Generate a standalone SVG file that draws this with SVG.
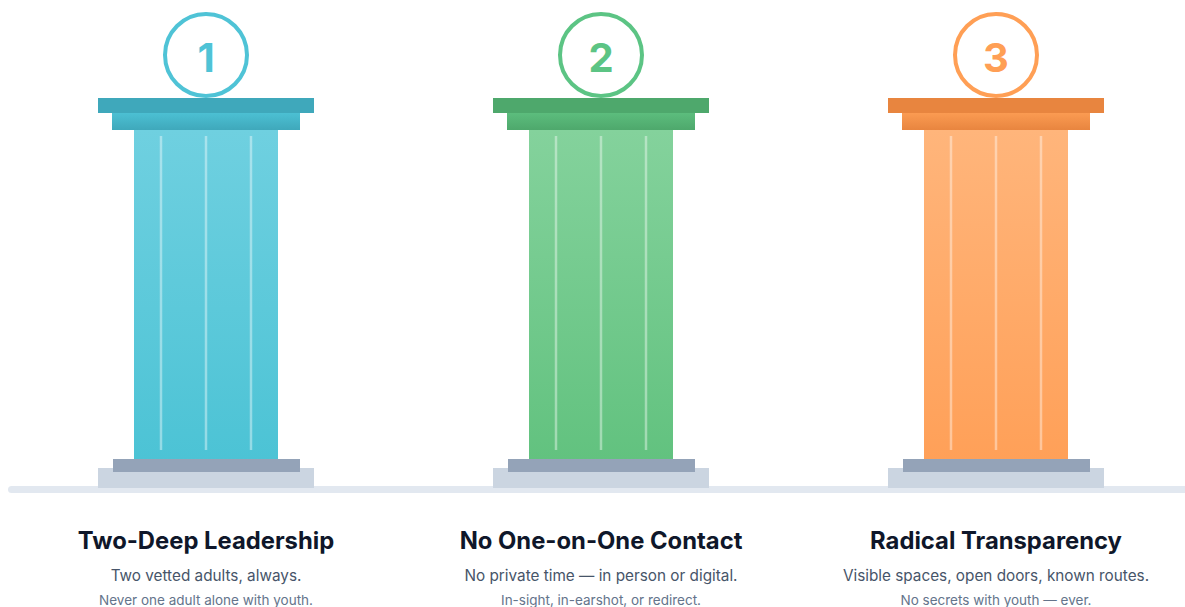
<svg xmlns="http://www.w3.org/2000/svg" width="1185" height="607" viewBox="0 0 1185 607">
  <style>
    .num { font-family: Inter, "Noto Sans", sans-serif; font-weight: 700; font-size: 40px; text-anchor: middle; }
    .title { font-family: Inter, "Noto Sans", sans-serif; font-weight: 700; font-size: 23.8px; fill: #0f172a; text-anchor: middle; }
    .sub { font-family: Inter, "Noto Sans", sans-serif; font-size: 15.3px; fill: #475569; text-anchor: middle; }
    .small { font-family: Inter, "Noto Sans", sans-serif; font-size: 13.5px; fill: #64748b; text-anchor: middle; }
    .flute { stroke: #ffffff; stroke-opacity: 0.4; stroke-width: 2.5; }
    .base1 { fill: #94a3b8; }
    .base2 { fill: #cbd5e1; }
  </style>
  <defs>
    <linearGradient id="shaftC" x1="0" y1="0" x2="0" y2="1"><stop offset="0" stop-color="#6fd0e0"/><stop offset="1" stop-color="#4cc3d5"/></linearGradient>
    <linearGradient id="capC" x1="0" y1="0" x2="0" y2="1"><stop offset="0" stop-color="#4cc0d3"/><stop offset="1" stop-color="#3fa8bb"/></linearGradient>
    <linearGradient id="shaftG" x1="0" y1="0" x2="0" y2="1"><stop offset="0" stop-color="#84d29c"/><stop offset="1" stop-color="#62c27f"/></linearGradient>
    <linearGradient id="capG" x1="0" y1="0" x2="0" y2="1"><stop offset="0" stop-color="#5cbd7d"/><stop offset="1" stop-color="#4ea86c"/></linearGradient>
    <linearGradient id="shaftO" x1="0" y1="0" x2="0" y2="1"><stop offset="0" stop-color="#ffb57b"/><stop offset="1" stop-color="#ffa058"/></linearGradient>
    <linearGradient id="capO" x1="0" y1="0" x2="0" y2="1"><stop offset="0" stop-color="#fb9b52"/><stop offset="1" stop-color="#e8853f"/></linearGradient>
  </defs>
  <rect width="1185" height="607" fill="#ffffff"/>
  <rect id="ground" x="8" y="486" width="1185" height="7" rx="3.5" fill="#e2e8f0"/>

  <g id="pillar1">
    <rect x="134" y="130" width="144" height="330" fill="url(#shaftC)"/>
    <line class="flute" x1="161" y1="136" x2="161" y2="450"/>
    <line class="flute" x1="206" y1="136" x2="206" y2="450"/>
    <line class="flute" x1="251" y1="136" x2="251" y2="450"/>
    <rect x="112" y="113" width="188" height="17" fill="url(#capC)"/>
    <rect x="98" y="98" width="216" height="15" fill="#3fa8bb"/>
    <rect class="base2" x="98" y="468" width="216" height="20"/>
    <rect class="base1" x="113" y="459" width="187" height="13"/>
    <circle cx="206" cy="55" r="41" fill="#ffffff" stroke="#4fc3d6" stroke-width="4"/>
    <text class="num" x="206" y="71.5" fill="#4fc3d6">1</text>
    <text class="title" x="206" y="549">Two-Deep Leadership</text>
    <text class="sub" x="206" y="581">Two vetted adults, always.</text>
    <text class="small" x="206" y="605">Never one adult alone with youth.</text>
  </g>

  <g id="pillar2">
    <rect x="529" y="130" width="144" height="330" fill="url(#shaftG)"/>
    <line class="flute" x1="556" y1="136" x2="556" y2="450"/>
    <line class="flute" x1="601" y1="136" x2="601" y2="450"/>
    <line class="flute" x1="646" y1="136" x2="646" y2="450"/>
    <rect x="507" y="113" width="188" height="17" fill="url(#capG)"/>
    <rect x="493" y="98" width="216" height="15" fill="#4ea86c"/>
    <rect class="base2" x="493" y="468" width="216" height="20"/>
    <rect class="base1" x="508" y="459" width="187" height="13"/>
    <circle cx="601" cy="55" r="41" fill="#ffffff" stroke="#5cc484" stroke-width="4"/>
    <text class="num" x="601" y="71.5" fill="#5cc484">2</text>
    <text class="title" x="601" y="549">No One-on-One Contact</text>
    <text class="sub" x="601" y="581">No private time — in person or digital.</text>
    <text class="small" x="601" y="605">In-sight, in-earshot, or redirect.</text>
  </g>

  <g id="pillar3">
    <rect x="924" y="130" width="144" height="330" fill="url(#shaftO)"/>
    <line class="flute" x1="951" y1="136" x2="951" y2="450"/>
    <line class="flute" x1="996" y1="136" x2="996" y2="450"/>
    <line class="flute" x1="1041" y1="136" x2="1041" y2="450"/>
    <rect x="902" y="113" width="188" height="17" fill="url(#capO)"/>
    <rect x="888" y="98" width="216" height="15" fill="#e8853f"/>
    <rect class="base2" x="888" y="468" width="216" height="20"/>
    <rect class="base1" x="903" y="459" width="187" height="13"/>
    <circle cx="996" cy="55" r="41" fill="#ffffff" stroke="#ff9f55" stroke-width="4"/>
    <text class="num" x="996" y="71.5" fill="#ff9f55">3</text>
    <text class="title" x="996" y="549">Radical Transparency</text>
    <text class="sub" x="996" y="581">Visible spaces, open doors, known routes.</text>
    <text class="small" x="996" y="605">No secrets with youth — ever.</text>
  </g>
</svg>
